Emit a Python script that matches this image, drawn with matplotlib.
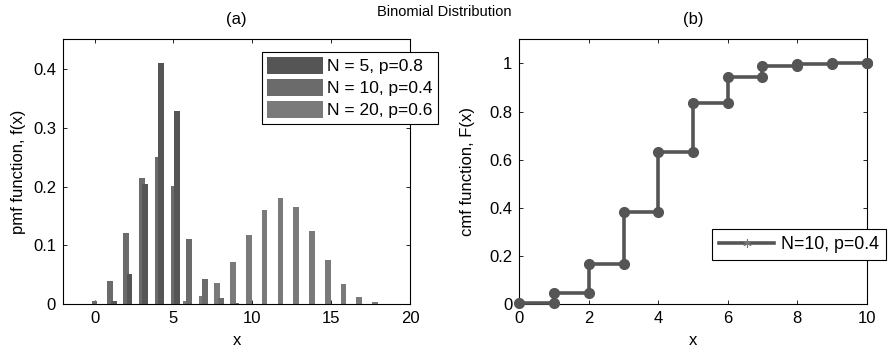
import matplotlib
matplotlib.use("Agg")
import matplotlib.pyplot as plt
from matplotlib.lines import Line2D
import numpy as np

# pmf values
x5 = [0, 1, 2, 3, 4, 5]
pmf5 = [0.0003, 0.0064, 0.0512, 0.2048, 0.4096, 0.3277]

x10 = [0, 1, 2, 3, 4, 5, 6, 7, 8, 9, 10]
pmf10 = [0.0060, 0.0403, 0.1209, 0.2150, 0.2508, 0.2007, 0.1115, 0.0425, 0.0106, 0.0016, 0.0001]

x20 = list(range(21))
pmf20 = [0.0, 0.0, 0.0, 0.0, 0.0003, 0.0013, 0.0049, 0.0146, 0.0355, 0.0710, 0.1171,
         0.1597, 0.1797, 0.1659, 0.1244, 0.0746, 0.0350, 0.0123, 0.0031, 0.0005, 0.0]

# cdf values
xc = [0, 1, 2, 3, 4, 5, 6, 7, 8, 9, 10]
cdf10 = [0.0060, 0.0464, 0.1673, 0.3823, 0.6331, 0.8338, 0.9452, 0.9877, 0.9983, 0.9999, 1.0]

labels = ['N = 5, p=0.8', 'N = 10, p=0.4', 'N = 20, p=0.6']
colors = ['#555555', '#6b6b6b', '#7a7a7a']

plt.rcParams['font.family'] = ['Liberation Sans', 'DejaVu Sans']
plt.rcParams['font.size'] = 12

W, H = 888.0, 353.0
fig = plt.figure(figsize=(8.88, 3.53), dpi=100)
ax1 = fig.add_axes([63 / W, 48.7 / H, 347 / W, 265 / H])
ax2 = fig.add_axes([519.3 / W, 48.7 / H, 347.4 / W, 265 / H])

# ---- (a) pmf ----
w = 0.36
ax1.bar(np.array(x20) - 0.22, pmf20, width=w, color=colors[2], label=labels[2], zorder=2)
ax1.bar(np.array(x10), pmf10, width=w, color=colors[1], label=labels[1], zorder=2)
ax1.bar(np.array(x5) + 0.22, pmf5, width=w, color=colors[0], label=labels[0], zorder=3)
ax1.set_xlim(-2, 20)
ax1.set_ylim(0, 0.45)
ax1.set_xticks([0, 5, 10, 15, 20])
ax1.set_yticks([0, 0.1, 0.2, 0.3, 0.4])
ax1.set_yticklabels(['0', '0.1', '0.2', '0.3', '0.4'])
ax1.set_title('(a)', fontsize=12, pad=11)
ax1.set_xlabel('x', labelpad=5)
ax1.set_ylabel('pmf function, f(x)', labelpad=5)
h, l = ax1.get_legend_handles_labels()
leg1 = fig.legend(h[::-1], l[::-1], loc='upper left', bbox_to_anchor=(262 / W, 1 - 52 / H),
                  fontsize=12.5, handlelength=3.2, handleheight=1.1, labelspacing=0.27,
                  handletextpad=0.25, borderpad=0.3, borderaxespad=0.0,
                  fancybox=False, framealpha=1, edgecolor='black')
leg1.get_frame().set_linewidth(0.8)

# ---- (b) cdf ----
xs = np.repeat(xc, 2)[1:]
ys = np.repeat(cdf10, 2)[:-1]
ax2.plot(xs, ys, color='#555555', lw=2.6, marker='o', ms=7, zorder=3, clip_on=False)
ax2.set_xlim(0, 10)
ax2.set_ylim(0, 1.1)
ax2.set_xticks([0, 2, 4, 6, 8, 10])
ax2.set_yticks([0, 0.2, 0.4, 0.6, 0.8, 1.0])
ax2.set_yticklabels(['0', '0.2', '0.4', '0.6', '0.8', '1'])
ax2.set_title('(b)', fontsize=12, pad=11)
ax2.set_xlabel('x', labelpad=5)
ax2.set_ylabel('cmf function, F(x)', labelpad=10)
proxy = Line2D([], [], color='#555555', lw=2.6, marker=(6, 2, 0), ms=6,
               markeredgecolor='#777777', markeredgewidth=0.8)
leg2 = fig.legend([proxy], ['N=10, p=0.4'], loc='upper left', bbox_to_anchor=(712 / W, 1 - 229 / H),
                  fontsize=12.8, handlelength=3.1, handletextpad=0.4, borderpad=0.4,
                  borderaxespad=0.0, fancybox=False, framealpha=1, edgecolor='black')
leg2.get_frame().set_linewidth(0.8)

for ax in (ax1, ax2):
    ax.tick_params(direction='in', top=True, right=True, length=3, width=0.6, pad=5)
    for s in ax.spines.values():
        s.set_linewidth(0.8)

fig.suptitle('Binomial Distribution', x=0.5, y=0.985, fontsize=10.5)

fig.savefig('out.png', dpi=100)
